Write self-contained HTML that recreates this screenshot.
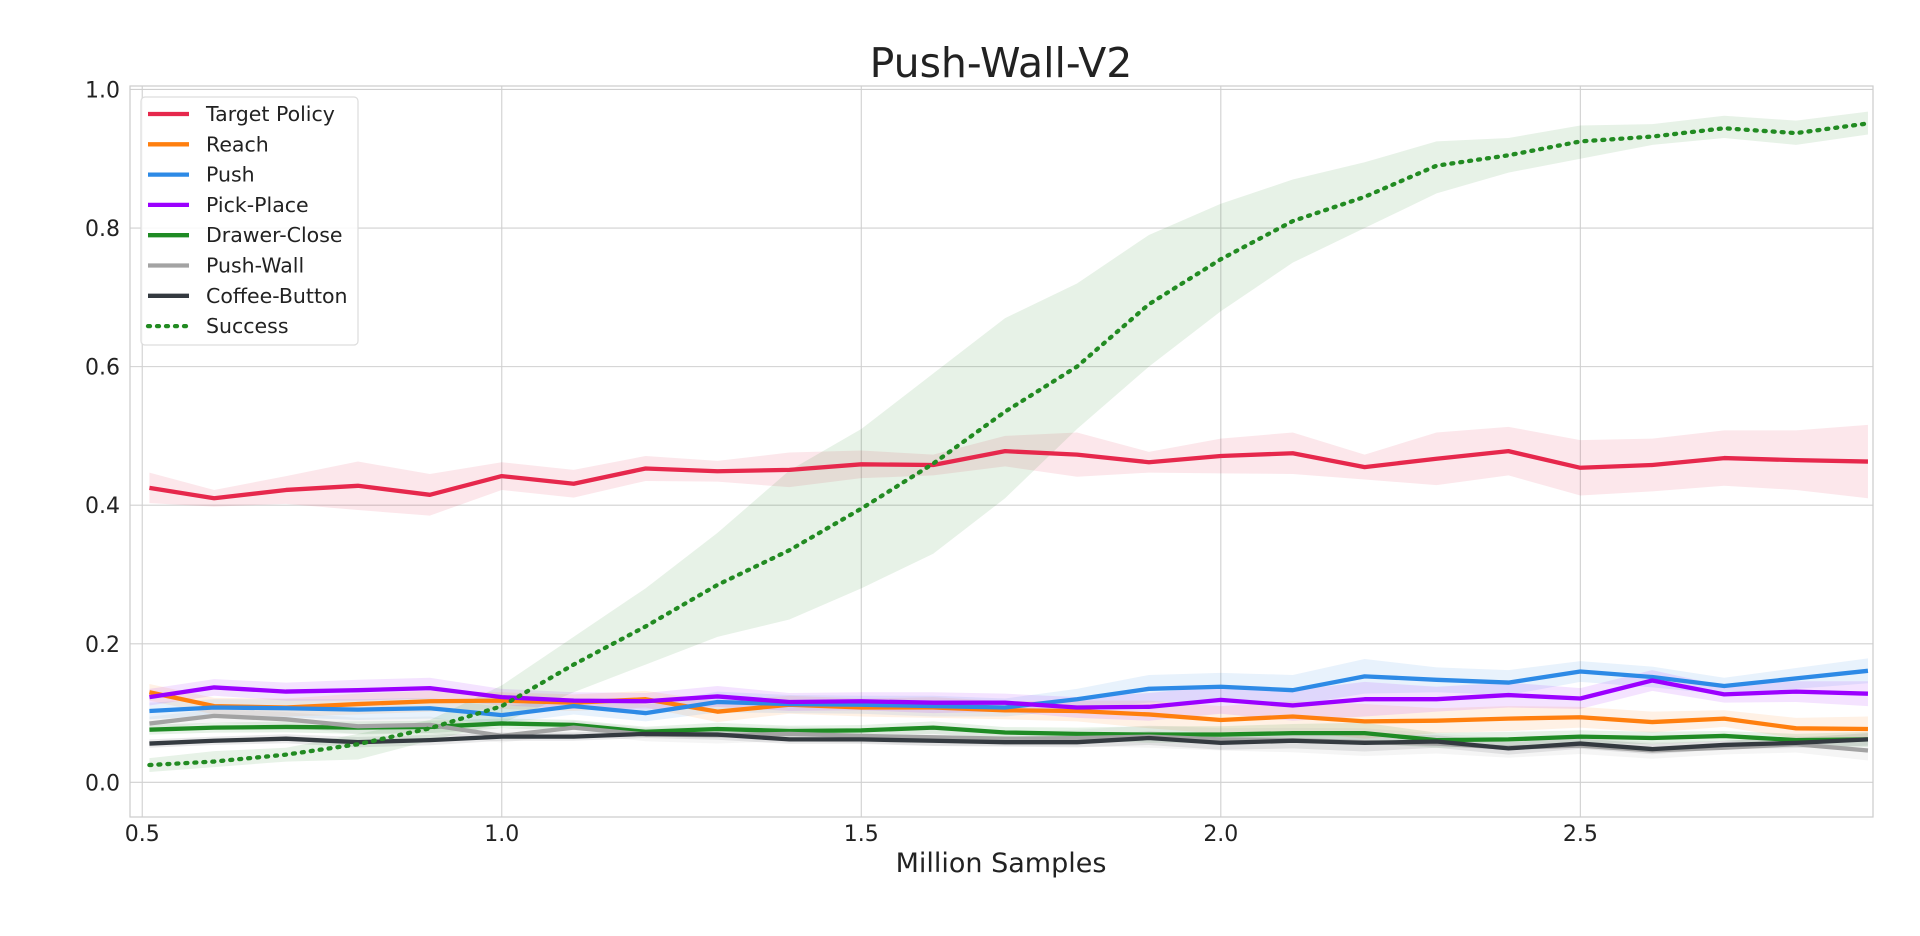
<!DOCTYPE html>
<html><head><meta charset="utf-8"><style>
html,body{margin:0;padding:0;background:#fff;}
svg{display:block;font-family:"DejaVu Sans","Liberation Sans",sans-serif;}
</style></head><body>
<svg id="chart" width="1920" height="936" viewBox="0 0 1920 936" xmlns="http://www.w3.org/2000/svg">
<text x="1001" y="77" font-size="41" text-anchor="middle" fill="#222">Push-Wall-V2</text>
<g id="grid"></g>
<g id="bands"></g>
<g id="lines"></g>
<rect x="130" y="86" width="1743" height="731" fill="none" stroke="#ccc" stroke-width="1.2"/>
<g id="ticks"></g>
<text x="1001" y="872" font-size="27" text-anchor="middle" fill="#222">Million Samples</text>
<g id="legend"></g>
</svg>
<script>
const xs=[0.51,0.6,0.7,0.8,0.9,1.0,1.1,1.2,1.3,1.4,1.5,1.6,1.7,1.8,1.9,2.0,2.1,2.2,2.3,2.4,2.5,2.6,2.7,2.8,2.9];
const xTicks=[0.5,1.0,1.5,2.0,2.5];
const xTickLabels=["0.5","1.0","1.5","2.0","2.5"];
const yTicks=[0,0.2,0.4,0.6,0.8,1.0];
const yTickLabels=["0.0","0.2","0.4","0.6","0.8","1.0"];
const seriesNames=["Target Policy","Reach","Push","Pick-Place","Drawer-Close","Push-Wall","Coffee-Button","Success"];
const targetVals=[.425,.41,.422,.428,.415,.442,.431,.453,.449,.451,.459,.458,.478,.473,.462,.471,.475,.455,.467,.478,.454,.458,.468,.465,.463];
const targetSpread=[.022,.012,.02,.035,.03,.02,.02,.018,.015,.025,.02,.015,.022,.032,.015,.025,.03,.018,.038,.035,.04,.038,.04,.043,.053];
const reachVals=[.13,.11,.108,.113,.117,.118,.115,.12,.102,.112,.108,.108,.104,.103,.098,.09,.095,.088,.089,.092,.094,.087,.092,.078,.077];
const pushVals=[.103,.108,.107,.105,.107,.097,.11,.1,.116,.113,.112,.11,.108,.12,.135,.138,.133,.153,.148,.144,.16,.152,.139,.15,.161];
const pickVals=[.123,.137,.131,.133,.136,.123,.118,.117,.124,.116,.117,.115,.115,.108,.109,.119,.111,.12,.12,.126,.121,.147,.127,.131,.128];
const drawerVals=[.076,.079,.08,.079,.08,.085,.083,.073,.077,.074,.075,.079,.072,.07,.069,.069,.071,.071,.061,.062,.066,.064,.067,.061,.062];
const pushWallVals=[.085,.096,.091,.081,.083,.067,.079,.069,.068,.07,.067,.065,.063,.064,.066,.062,.061,.058,.056,.05,.053,.046,.05,.055,.046];
const coffeeVals=[.056,.06,.063,.058,.061,.066,.066,.07,.069,.062,.062,.06,.058,.058,.064,.057,.06,.057,.059,.049,.056,.048,.054,.057,.062];
const smallSpread=[.012,.012,.013,.015,.015,.012,.012,.012,.015,.013,.013,.015,.013,.015,.02,.02,.022,.025,.018,.018,.015,.015,.012,.015,.018];
const successVals=[.025,.03,.04,.055,.078,.11,.17,.225,.285,.335,.395,.46,.535,.6,.69,.755,.81,.845,.89,.905,.925,.932,.944,.937,.951];
const successLo=[.015,.022,.03,.033,.06,.085,.13,.17,.21,.235,.28,.33,.41,.51,.6,.68,.75,.8,.85,.88,.9,.92,.93,.92,.935];
const successHi=[.035,.045,.05,.07,.09,.14,.21,.28,.36,.45,.51,.59,.67,.72,.79,.835,.87,.895,.925,.93,.948,.95,.962,.955,.968];

const X0=130,X1=1873,Y0=817,Y1=86,XMIN=0.483,XMAX=2.907,YMIN=-0.05,YMAX=1.005;
const sx=v=>X0+(v-XMIN)/(XMAX-XMIN)*(X1-X0);
const sy=v=>Y0-(v-YMIN)/(YMAX-YMIN)*(Y0-Y1);
const NS="http://www.w3.org/2000/svg";
function mk(tag,attrs,parent){const e=document.createElementNS(NS,tag);for(const k in attrs)e.setAttribute(k,attrs[k]);parent.appendChild(e);return e;}
const grid=document.getElementById('grid'),ticks=document.getElementById('ticks'),bands=document.getElementById('bands'),lines=document.getElementById('lines'),legend=document.getElementById('legend');
xTicks.forEach((t,i)=>{
 const l=mk('line',{x1:sx(t),x2:sx(t),y1:Y1,y2:Y0,stroke:'#d0d0d0','stroke-width':1.1},grid);
 
 
 const tx=mk('text',{x:sx(t),y:Y0+24,'font-size':22,'text-anchor':'middle',fill:'#222'},ticks);
 tx.textContent=xTickLabels[i];
 
 
});
yTicks.forEach((t,i)=>{
 const l=mk('line',{x1:X0,x2:X1,y1:sy(t),y2:sy(t),stroke:'#d0d0d0','stroke-width':1.1},grid);
 
 
 const tx=mk('text',{x:X0-10,y:sy(t)+8,'font-size':22,'text-anchor':'end',fill:'#222'},ticks);
 tx.textContent=yTickLabels[i];
 
 
});
const series=[
 {vals:targetVals,lo:targetVals.map((v,i)=>v-targetSpread[i]),hi:targetVals.map((v,i)=>v+targetSpread[i]),c:'#e6284c',dash:null,key:'target-policy'},
 {vals:reachVals,lo:reachVals.map((v,i)=>v-smallSpread[i]),hi:reachVals.map((v,i)=>v+smallSpread[i]),c:'#ff7f0e',dash:null,key:'reach'},
 {vals:pushVals,lo:pushVals.map((v,i)=>v-smallSpread[i]),hi:pushVals.map((v,i)=>v+smallSpread[i]),c:'#2d8ae6',dash:null,key:'push'},
 {vals:pickVals,lo:pickVals.map((v,i)=>v-smallSpread[i]),hi:pickVals.map((v,i)=>v+smallSpread[i]),c:'#9b00ff',dash:null,key:'pick-place'},
 {vals:drawerVals,lo:drawerVals.map((v,i)=>v-smallSpread[i]*0.6),hi:drawerVals.map((v,i)=>v+smallSpread[i]*0.6),c:'#1f8b24',dash:null,key:'drawer-close'},
 {vals:pushWallVals,lo:pushWallVals.map((v,i)=>v-smallSpread[i]*0.8),hi:pushWallVals.map((v,i)=>v+smallSpread[i]*0.8),c:'#a3a3a3',dash:null,key:'push-wall'},
 {vals:coffeeVals,lo:coffeeVals.map((v,i)=>v-smallSpread[i]*0.5),hi:coffeeVals.map((v,i)=>v+smallSpread[i]*0.5),c:'#343a40',dash:null,key:'coffee-button'},
 {vals:successVals,lo:successLo,hi:successHi,c:'#228b22',dash:'2,7',key:'success'}
];
series.forEach(s=>{
 const up=s.hi.map((v,i)=>sx(xs[i])+','+sy(v));
 const dn=s.lo.map((v,i)=>sx(xs[i])+','+sy(v)).reverse();
 const b=mk('polygon',{points:up.concat(dn).join(' '),fill:s.c,'fill-opacity':0.11,stroke:'none'},bands);
 
 
});
series.forEach(s=>{
 const a={points:s.vals.map((v,i)=>sx(xs[i])+','+sy(v)).join(' '),fill:'none',stroke:s.c,'stroke-width':4.3,'stroke-linejoin':'round'};
 if(s.dash){a['stroke-dasharray']=s.dash;a['stroke-linecap']='round';}
 const l=mk('polyline',a,lines);
 
 
});
const lb=mk('rect',{x:141,y:97,width:217,height:248,rx:4,fill:'#fff','fill-opacity':0.85,stroke:'#ddd','stroke-width':1.2},legend);


series.forEach((s,i)=>{
 const y=114+i*30.3;
 const a={x1:148,x2:189,y1:y,y2:y,stroke:s.c,'stroke-width':4.3};
 if(s.dash){a['stroke-dasharray']='2,7';a['stroke-linecap']='round';}
 const l=mk('line',a,legend);
 
 
 const t=mk('text',{x:206,y:y+7,'font-size':20.5,fill:'#222'},legend);
 t.textContent=seriesNames[i];
 
 
});
</script>
</body></html>
